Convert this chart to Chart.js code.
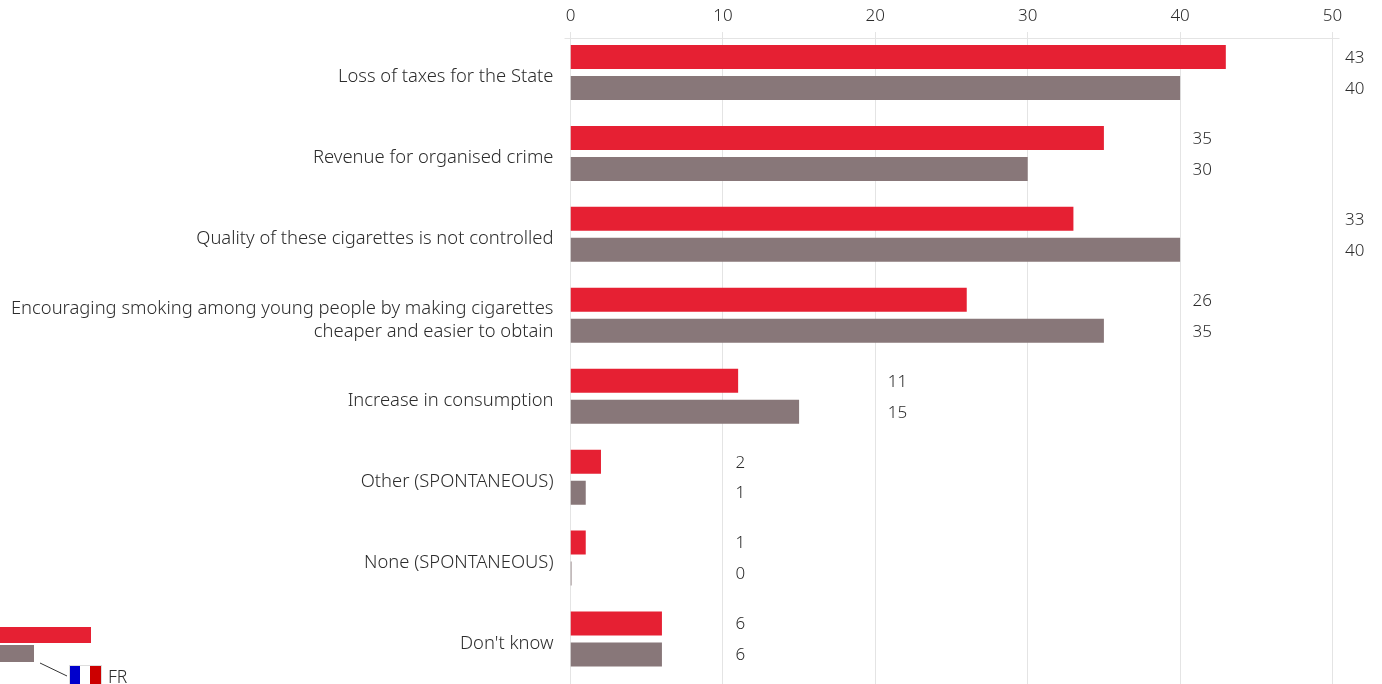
<!DOCTYPE html>
<html>
<head>
<meta charset="utf-8">
<style>html,body{margin:0;padding:0;background:#fff}canvas{display:block}</style>
<script src="https://cdn.jsdelivr.net/npm/chart.js@4/dist/chart.umd.js"></script>
</head>
<body>
<canvas id="c" width="1382" height="684"></canvas>
<script>
const categories = [
  'Loss of taxes for the State',
  'Revenue for organised crime',
  'Quality of these cigarettes is not controlled',
  ['Encouraging smoking among young people by making cigarettes', 'cheaper and easier to obtain'],
  'Increase in consumption',
  'Other (SPONTANEOUS)',
  'None (SPONTANEOUS)',
  "Don't know"
];
const euValues = [43, 35, 33, 26, 11, 2, 1, 6];
const frValues = [40, 30, 40, 35, 15, 1, 0, 6];
const axisTicks = [0, 10, 20, 30, 40, 50];

const RED = '#e62033';
const GREY = '#887779';
const INK = '#2c2c2c';
const GRID = '#e4e4e4';
const FONT = '"Noto Sans", sans-serif';

// Category axis whose labels sit slightly below the centre of each bar pair.
class LoweredLabelScale extends Chart.CategoryScale {
  static id = 'loweredCategory';
  static defaults = Chart.CategoryScale.defaults;
  getPixelForTick(index) {
    return super.getPixelForTick(index) + 4.5;
  }
}
Chart.register(LoweredLabelScale);

// Vertical rules run past the plot area to the bottom edge of the page.
const gridPlugin = {
  id: 'grid',
  beforeDatasetsDraw(chart) {
    const { ctx, scales: { x } } = chart;
    ctx.save();
    ctx.strokeStyle = GRID;
    ctx.lineWidth = 1;
    ctx.beginPath();
    ctx.moveTo(x.left - 6, 38.5);
    ctx.lineTo(x.right + 7, 38.5);
    axisTicks.forEach(t => {
      const px = Math.floor(x.getPixelForValue(t)) + 0.5;
      ctx.moveTo(px, 32);
      ctx.lineTo(px, 684);
    });
    ctx.stroke();
    ctx.restore();
  }
};

// Value labels line up just right of the next gridline beyond the longer bar.
const valueLabels = {
  id: 'valueLabels',
  afterDatasetsDraw(chart) {
    const { ctx, scales: { x } } = chart;
    ctx.save();
    ctx.font = '300 17px ' + FONT;
    ctx.fillStyle = INK;
    ctx.textBaseline = 'middle';
    ctx.textAlign = 'left';
    categories.forEach((_, i) => {
      const top = Math.max(euValues[i], frValues[i]);
      const anchor = x.getPixelForValue(Math.floor(top / 10) * 10 + 10) + 12.5;
      chart.data.datasets.forEach((ds, d) => {
        const bar = chart.getDatasetMeta(d).data[i];
        ctx.fillText(String(ds.data[i]), anchor, bar.y + 1);
      });
    });
    ctx.restore();
  }
};

// Key in the lower left corner: two sample bars, a leader line and the flag.
const keyPlugin = {
  id: 'key',
  afterDraw(chart) {
    const { ctx } = chart;
    ctx.save();
    ctx.fillStyle = RED;
    ctx.fillRect(0, 627, 91, 16);
    ctx.fillStyle = GREY;
    ctx.fillRect(0, 645, 34, 17);
    ctx.strokeStyle = '#333';
    ctx.lineWidth = 1;
    ctx.beginPath();
    ctx.moveTo(40, 663);
    ctx.lineTo(67, 676);
    ctx.stroke();
    ctx.fillStyle = '#0000cc';
    ctx.fillRect(70, 666, 10, 18);
    ctx.fillStyle = '#cc0000';
    ctx.fillRect(90, 666, 11, 18);
    ctx.strokeStyle = '#dddddd';
    ctx.strokeRect(69.5, 665.5, 32, 19);
    ctx.fillStyle = INK;
    ctx.font = '300 17.5px ' + FONT;
    ctx.textBaseline = 'middle';
    ctx.fillText('FR', 108, 678);
    ctx.restore();
  }
};

new Chart(document.getElementById('c'), {
  type: 'bar',
  data: {
    labels: categories,
    datasets: [
      { label: 'EU', data: euValues, backgroundColor: RED, minBarLength: 1 },
      { label: 'FR', data: frValues, backgroundColor: GREY, minBarLength: 1 }
    ]
  },
  options: {
    indexAxis: 'y',
    responsive: false,
    animation: false,
    layout: { padding: { right: 49.5, bottom: 4.5 } },
    datasets: { bar: { categoryPercentage: 0.766, barPercentage: 0.774 } },
    plugins: { legend: { display: false }, tooltip: { enabled: false } },
    scales: {
      x: {
        position: 'top',
        min: 0,
        max: 50,
        afterFit(s) { s.height = 32; },
        afterBuildTicks(s) { s.ticks = axisTicks.map(value => ({ value })); },
        grid: { display: false, drawTicks: false },
        border: { display: false },
        ticks: { color: INK, font: { family: FONT, size: 17, weight: 300 }, padding: 6, maxRotation: 0 }
      },
      y: {
        type: 'loweredCategory',
        afterFit(s) { s.width = 570.5; s.paddingTop = 0; s.paddingBottom = 0; },
        grid: { display: false, drawTicks: false },
        border: { display: false },
        ticks: {
          color: INK,
          font: { family: FONT, size: 18.4, weight: 300, lineHeight: 1.25 },
          padding: 17,
          autoSkip: false
        }
      }
    }
  },
  plugins: [gridPlugin, valueLabels, keyPlugin]
});
</script>
</body>
</html>
